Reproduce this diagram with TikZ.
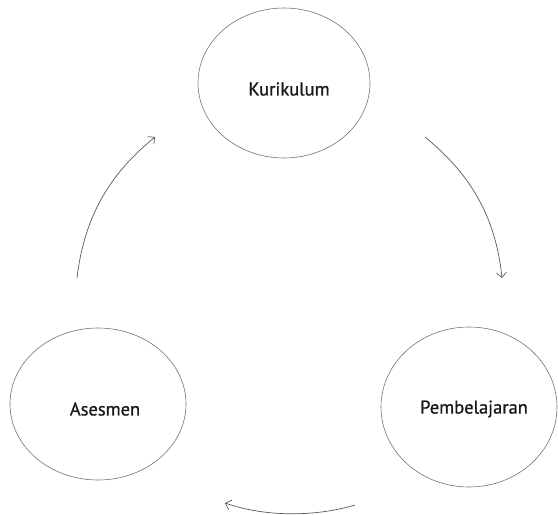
\documentclass[tikz,border=0pt]{standalone}
\usepackage{fontspec}
\setmainfont{PT Sans}
\newfontfamily\lblfont{PT Sans}[UprightFeatures={FakeBold=0.9}]
\usetikzlibrary{arrows.meta,shapes.geometric}
\begin{document}
\begin{tikzpicture}[x=1pt,y=-1pt,
  bubble/.style={draw=black!55,line width=0.6pt,ellipse,inner sep=0pt},
  lbl/.style={font=\lblfont\fontsize{18.5}{22}\selectfont, text=black!90},
  flow/.style={draw=black!65,line width=0.7pt,-{Straight Barb[length=5pt,width=10pt]}}]
\useasboundingbox (0,0) rectangle (558,515);
\node[bubble,minimum width=172pt,minimum height=150pt] (kur) at (284,83) {};
\node[lbl] (kurt) at (289,89) {Kurikulum};
\node[bubble,minimum width=176pt,minimum height=152pt] (ase) at (98,404) {};
\node[lbl] (aset) at (105,409) {Asesmen};
\node[bubble,minimum width=176pt,minimum height=160pt] (pem) at (469,407) {};
\node[lbl] (pemt) at (474,409) {Pembelajaran};
\coordinate (a1) at (77,278);
\coordinate (a2) at (155,137);
\coordinate (b1) at (425,137);
\coordinate (b2) at (502,278);
\coordinate (c1) at (355,505);
\coordinate (c2) at (225,503);
\draw[flow] (a1) .. controls (85,210) and (115,170) .. (a2);
\draw[flow] (b1) .. controls (465,170) and (495,210) .. (b2);
\draw[flow] (c1) .. controls (315,517) and (265,517) .. (c2);
\end{tikzpicture}
\end{document}
